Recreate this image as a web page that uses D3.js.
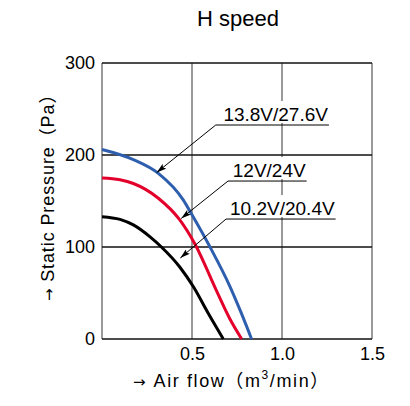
<!DOCTYPE html>
<html>
<head>
<meta charset="utf-8">
<script src="https://cdn.jsdelivr.net/npm/d3@7"></script>
<style>
  body { margin: 0; background: #fff; }
  text { font-family: "Liberation Sans", Arial, "Noto Sans CJK JP", sans-serif; fill: #000; }
</style>
</head>
<body>
<div id="chart"></div>
<script>
// curve data: air flow (m3/min) vs static pressure (Pa)
var flowHigh = [0, 0.174, 0.313, 0.452, 0.5, 0.6, 0.711, 0.77, 0.831];
var presHigh = [206, 195, 180, 151, 135, 100, 57, 30, 0];

var flowMid = [0, 0.1, 0.174, 0.313, 0.43, 0.517, 0.637, 0.71, 0.776];
var presMid = [175, 173, 169, 153, 130, 103, 52, 22, 0];

var flowLow = [0, 0.1, 0.174, 0.267, 0.33, 0.433, 0.507, 0.59, 0.674];
var presLow = [133, 130, 124, 111, 100, 78, 57, 28, 0];

var seriesNames = ["13.8V/27.6V", "12V/24V", "10.2V/20.4V"];
var seriesColors = ["#2e5fae", "#e3002b", "#000000"];

// label leader lines: arrow tip on the curve, elbow, end of underline (data units)
var tipFlow = [0.304, 0.44, 0.435];
var tipPres = [181, 131, 88];
var elbowFlow = [0.632, 0.7, 0.689];
var elbowPres = [232.6, 171.7, 130.4];
var endFlow = [1.261, 1.137, 1.298];

var xTicks = [0.5, 1.0, 1.5];
var yTicks = [0, 100, 200, 300];

var visualize = function() {
  var margin = { top: 63, right: 38, bottom: 67, left: 102 },
      width = 410 - margin.left - margin.right,
      height = 406 - margin.top - margin.bottom;

  var root = d3.select("#chart")
    .append("svg")
    .attr("width", 410)
    .attr("height", 406);

  var defs = root.append("defs");
  defs.append("marker")
    .attr("id", "arrow")
    .attr("viewBox", "0 0 10 6")
    .attr("refX", 10).attr("refY", 3)
    .attr("markerWidth", 10).attr("markerHeight", 6)
    .attr("markerUnits", "userSpaceOnUse")
    .attr("orient", "auto")
    .append("path")
    .attr("d", "M0,0 L10,3 L0,6 L2,3 Z")
    .attr("fill", "#000");

  var svg = root.append("g")
    .attr("transform", "translate(" + margin.left + "," + margin.top + ")");

  var x = d3.scaleLinear().domain([0, 1.5]).range([0, width]);
  var y = d3.scaleLinear().domain([0, 300]).range([height, 0]);

  // vertical grid (gray)
  svg.selectAll(".vgrid")
    .data([0, 0.5, 1.0, 1.5])
    .enter()
    .append("line")
    .attr("x1", function (d) { return x(d); })
    .attr("x2", function (d) { return x(d); })
    .attr("y1", 0)
    .attr("y2", height)
    .attr("stroke", "#6f6f6f")
    .attr("stroke-width", 1.4);

  // horizontal grid (black)
  svg.selectAll(".hgrid")
    .data(yTicks)
    .enter()
    .append("line")
    .attr("x1", 0)
    .attr("x2", width)
    .attr("y1", function (d) { return y(d); })
    .attr("y2", function (d) { return y(d); })
    .attr("stroke", "#111")
    .attr("stroke-width", 1.3);

  // axes
  var yAxis = d3.axisLeft(y).tickValues(yTicks).tickSize(0).tickPadding(7);
  svg.append("g")
    .call(yAxis)
    .call(function (g) { g.select(".domain").remove(); })
    .selectAll("text")
    .attr("font-size", 18)
    .attr("font-family", "Liberation Sans, Arial, sans-serif")
    .attr("fill", "#000");

  var xAxis = d3.axisBottom(x).tickValues(xTicks).tickSize(0).tickPadding(8)
    .tickFormat(d3.format(".1f"));
  svg.append("g")
    .attr("transform", "translate(0," + height + ")")
    .call(xAxis)
    .call(function (g) { g.select(".domain").remove(); })
    .selectAll("text")
    .attr("font-size", 18)
    .attr("font-family", "Liberation Sans, Arial, sans-serif")
    .attr("fill", "#000");

  // curves
  var curves = [
    d3.zip(flowHigh, presHigh),
    d3.zip(flowMid, presMid),
    d3.zip(flowLow, presLow)
  ];
  var line = d3.line()
    .x(function (d) { return x(d[0]); })
    .y(function (d) { return y(d[1]); })
    .curve(d3.curveMonotoneX);

  svg.selectAll(".curve")
    .data(curves)
    .enter()
    .append("path")
    .attr("d", line)
    .attr("fill", "none")
    .attr("stroke", function (d, i) { return seriesColors[i]; })
    .attr("stroke-width", 3);

  // labels with underline and leader arrow
  seriesNames.forEach(function (name, i) {
    var ey = y(elbowPres[i]);
    var t = svg.append("text")
      .attr("x", x(endFlow[i]) - 1)
      .attr("y", ey - 4)
      .attr("text-anchor", "end")
      .attr("font-size", 19)
      .text(name);
    var bb = t.node().getBBox();
    svg.insert("rect", function () { return t.node(); })
      .attr("x", bb.x - 1)
      .attr("y", ey - 24)
      .attr("width", bb.width + 2)
      .attr("height", 22)
      .attr("fill", "#fff");
    svg.append("line")
      .attr("x1", x(elbowFlow[i]))
      .attr("x2", x(endFlow[i]))
      .attr("y1", ey)
      .attr("y2", ey)
      .attr("stroke", "#000")
      .attr("stroke-width", 1);
    svg.append("line")
      .attr("x1", x(elbowFlow[i]))
      .attr("y1", ey)
      .attr("x2", x(tipFlow[i]))
      .attr("y2", y(tipPres[i]))
      .attr("stroke", "#000")
      .attr("stroke-width", 1)
      .attr("marker-end", "url(#arrow)");
  });

  // title
  root.append("text")
    .attr("x", 238)
    .attr("y", 26)
    .attr("text-anchor", "middle")
    .attr("font-size", 22)
    .text("H speed");

  // x axis title
  var xt = root.append("text")
    .attr("x", 133)
    .attr("y", 387)
    .attr("font-size", 18)
    .attr("letter-spacing", 1.6);
  xt.append("tspan")
    .attr("font-family", "DejaVu Sans, sans-serif")
    .attr("font-size", 15)
    .text("\u2192 ");
  xt.append("tspan").text(" Air flow\uFF08m");
  xt.append("tspan").attr("font-size", 12).attr("dy", -8).text("3");
  xt.append("tspan").attr("dy", 8).text("/min\uFF09");

  // y axis title
  var yt = root.append("text")
    .attr("transform", "translate(54,301) rotate(-90)")
    .attr("font-size", 18)
    .attr("letter-spacing", 0.9);
  yt.append("tspan")
    .attr("font-family", "DejaVu Sans, sans-serif")
    .attr("font-size", 15)
    .text("\u2192 ");
  yt.append("tspan").text(" Static Pressure\uFF08Pa\uFF09");
};

visualize();
</script>
</body>
</html>
